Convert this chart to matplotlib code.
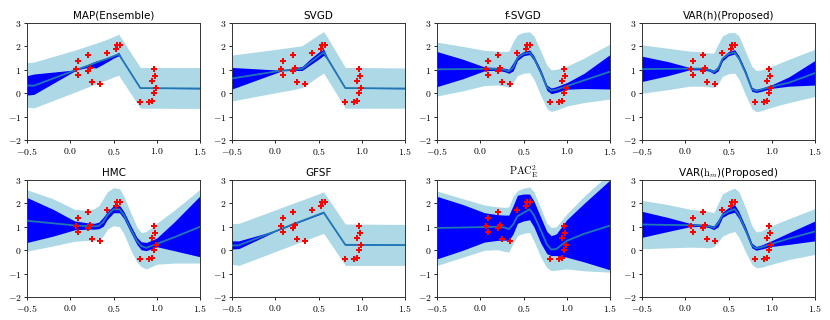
import matplotlib
matplotlib.use("Agg")
import matplotlib.pyplot as plt
from matplotlib.ticker import FuncFormatter

plt.rcParams["mathtext.fontset"] = "cm"
plt.rcParams["font.family"] = ["DejaVu Sans"]

# training data (red crosses)
DATA_X = [0.069, 0.088, 0.088, 0.208, 0.208, 0.23, 0.254, 0.346, 0.43, 0.53,
          0.538, 0.573, 0.808, 0.908, 0.942, 0.95, 0.965, 0.97, 0.985, 0.996]
DATA_Y = [1.04, 1.36, 0.76, 1.63, 0.97, 1.07, 0.49, 0.40, 1.73, 1.87,
          2.07, 2.07, -0.39, -0.39, -0.34, 0.51, 1.04, 0.0, 0.73, 0.23]

# --- MAP (Ensemble) ---
MAP_X = [-0.5, -0.42, 0.07, 0.2, 0.3, 0.4, 0.5, 0.56, 0.6, 0.81, 1.5]
MAP_MEAN = [0.33, 0.32, 1.0, 1.17, 1.31, 1.44, 1.58, 1.67, 1.44, 0.22, 0.2]
MAP_IN_HI = [0.75, 0.82, 1.0, 1.22, 1.38, 1.45, 1.6, 1.75, 1.47, 0.23, 0.21]
MAP_IN_LO = [-0.08, -0.05, 0.99, 1.1, 1.08, 1.28, 1.5, 1.6, 1.42, 0.21, 0.19]
MAP_OUT_HI = [1.3, 1.33, 1.86, 2.02, 2.14, 2.27, 2.42, 2.52, 2.3, 1.1, 1.1]
MAP_OUT_LO = [-0.6, -0.63, 0.07, 0.26, 0.4, 0.54, 0.69, 0.77, 0.54, -0.64, -0.65]

# --- SVGD ---
SVGD_X = [-0.5, 0.08, 0.2, 0.31, 0.4, 0.5, 0.56, 0.6, 0.81, 1.5]
SVGD_MEAN = [0.63, 0.97, 1.0, 1.04, 1.3, 1.58, 1.75, 1.5, 0.22, 0.2]
SVGD_IN_HI = [1.1, 0.98, 1.08, 1.14, 1.45, 1.75, 1.88, 1.55, 0.23, 0.21]
SVGD_IN_LO = [0.18, 0.96, 0.97, 0.97, 1.2, 1.45, 1.62, 1.45, 0.21, 0.19]
SVGD_OUT_HI = [1.63, 1.91, 1.97, 2.03, 2.25, 2.5, 2.63, 2.4, 1.1, 1.08]
SVGD_OUT_LO = [-0.33, 0.07, 0.15, 0.24, 0.46, 0.72, 0.86, 0.62, -0.64, -0.64]

# --- GFSF ---
GFSF_X = [-0.5, -0.42, 0.0, 0.2, 0.3, 0.56, 0.81, 1.5]
GFSF_MEAN = [0.2, 0.21, 0.81, 1.1, 1.24, 1.61, 0.23, 0.22]
GFSF_IN_HI = [0.4, 0.4, 0.84, 1.16, 1.28, 1.63, 0.24, 0.23]
GFSF_IN_LO = [0.05, 0.07, 0.8, 1.09, 1.23, 1.59, 0.22, 0.21]
GFSF_OUT_HI = [1.13, 1.15, 1.72, 2.0, 2.13, 2.49, 1.12, 1.1]
GFSF_OUT_LO = [-0.6, -0.65, -0.06, 0.22, 0.36, 0.72, -0.65, -0.65]

# knots shared by the smooth panels
SMOOTH_X = [-0.5, -0.2, 0.05, 0.2, 0.28, 0.33, 0.38, 0.43, 0.5, 0.57, 0.62,
            0.7, 0.77, 0.82, 0.88, 1.0, 1.2, 1.5]

# --- f-SVGD ---
FSVGD_MEAN = [1.02, 1.03, 1.04, 1.04, 1.0, 0.93, 1.1, 1.5, 1.68, 1.74, 1.5,
              0.9, 0.25, 0.11, 0.15, 0.3, 0.55, 0.92]
FSVGD_IN_HI = [1.78, 1.45, 1.12, 1.1, 1.07, 1.02, 1.3, 1.62, 1.78, 1.85, 1.6,
               1.0, 0.35, 0.22, 0.28, 0.45, 0.85, 1.65]
FSVGD_IN_LO = [0.28, 0.62, 0.96, 0.98, 0.92, 0.85, 0.95, 1.4, 1.6, 1.65, 1.4,
               0.78, 0.12, -0.02, 0.03, 0.17, 0.2, 0.18]
FSVGD_OUT_HI = [2.18, 2.0, 1.83, 1.8, 1.78, 1.8, 2.2, 2.5, 2.6, 2.62, 2.45,
                1.8, 1.2, 1.0, 1.02, 1.15, 1.5, 2.1]
FSVGD_OUT_LO = [-0.12, 0.1, 0.33, 0.35, 0.3, 0.25, 0.45, 0.75, 0.85, 0.88, 0.6,
                -0.1, -0.65, -0.78, -0.72, -0.55, -0.4, -0.25]

# --- VAR(h) ---
VARH_MEAN = [1.03, 1.04, 1.05, 1.05, 1.0, 0.9, 1.05, 1.47, 1.68, 1.74, 1.5,
             0.85, 0.17, 0.1, 0.15, 0.28, 0.45, 0.86]
VARH_IN_HI = [1.58, 1.35, 1.1, 1.09, 1.05, 0.98, 1.15, 1.55, 1.78, 1.86, 1.6,
              0.95, 0.25, 0.17, 0.22, 0.36, 0.7, 1.4]
VARH_IN_LO = [0.5, 0.75, 1.0, 1.0, 0.94, 0.83, 0.95, 1.38, 1.6, 1.68, 1.42,
              0.78, 0.08, 0.03, 0.08, 0.21, 0.3, 0.35]
VARH_OUT_HI = [2.07, 1.92, 1.8, 1.77, 1.72, 1.72, 2.1, 2.45, 2.58, 2.6, 2.45,
               1.75, 1.15, 0.97, 1.0, 1.15, 1.45, 1.88]
VARH_OUT_LO = [0.0, 0.15, 0.3, 0.3, 0.27, 0.25, 0.4, 0.72, 0.83, 0.86, 0.6,
               -0.1, -0.65, -0.79, -0.75, -0.6, -0.4, -0.14]

# --- HMC ---
HMC_MEAN = [1.26, 1.15, 1.06, 1.03, 1.02, 1.04, 1.2, 1.5, 1.75, 1.75, 1.5,
            0.9, 0.4, 0.18, 0.1, 0.27, 0.55, 1.0]
HMC_IN_HI = [2.25, 1.75, 1.25, 1.17, 1.15, 1.2, 1.4, 1.65, 1.9, 1.92, 1.65,
             1.05, 0.55, 0.36, 0.33, 0.52, 1.2, 2.32]
HMC_IN_LO = [0.33, 0.6, 0.87, 0.9, 0.9, 0.92, 1.02, 1.32, 1.6, 1.6, 1.35,
             0.75, 0.25, 0.02, -0.02, 0.15, -0.02, -0.28]
HMC_OUT_HI = [2.58, 2.2, 1.75, 1.7, 1.78, 1.9, 2.2, 2.5, 2.67, 2.63, 2.3,
              1.6, 1.0, 0.75, 0.8, 1.15, 1.7, 2.6]
HMC_OUT_LO = [-0.04, 0.18, 0.38, 0.42, 0.4, 0.45, 0.6, 0.9, 1.05, 1.0, 0.7,
              0.0, -0.5, -0.7, -0.8, -0.6, -0.55, -0.55]

# --- PAC^2_E ---
PAC_MEAN = [0.95, 0.97, 0.99, 1.0, 0.97, 0.9, 1.1, 1.45, 1.6, 1.75, 1.5,
            0.85, 0.25, 0.03, 0.05, 0.4, 0.7, 1.05]
PAC_IN_HI = [2.3, 1.95, 1.6, 1.52, 1.5, 1.5, 1.9, 2.35, 2.4, 2.4, 2.1,
             1.4, 0.8, 0.62, 0.7, 1.3, 2.0, 3.0]
PAC_IN_LO = [-0.37, 0.0, 0.35, 0.42, 0.43, 0.42, 0.7, 1.15, 1.25, 1.3, 1.0,
             0.3, -0.15, -0.23, -0.23, -0.3, -0.5, -0.84]
PAC_OUT_HI = [2.53, 2.2, 1.93, 1.85, 1.83, 1.85, 2.3, 2.55, 2.65, 2.7, 2.5,
              1.8, 1.15, 0.97, 1.0, 1.55, 2.3, 3.3]
PAC_OUT_LO = [-0.65, -0.3, 0.0, 0.02, -0.05, -0.08, 0.3, 0.62, 0.72, 0.76, 0.4,
              -0.3, -0.75, -0.87, -0.85, -0.8, -0.88, -0.94]

# --- VAR(h_m) ---
VARHM_MEAN = [1.1, 1.08, 1.07, 1.06, 1.02, 0.96, 1.15, 1.5, 1.65, 1.76, 1.5,
              0.85, 0.2, 0.08, 0.12, 0.27, 0.5, 0.8]
VARHM_IN_HI = [1.66, 1.4, 1.15, 1.1, 1.08, 1.04, 1.3, 1.62, 1.82, 1.95, 1.65,
               0.98, 0.3, 0.16, 0.22, 0.41, 0.75, 1.25]
VARHM_IN_LO = [0.55, 0.8, 1.0, 1.02, 0.96, 0.88, 1.0, 1.4, 1.55, 1.62, 1.35,
               0.72, 0.1, 0.0, 0.05, 0.16, 0.25, 0.4]
VARHM_OUT_HI = [2.13, 1.95, 1.75, 1.7, 1.65, 1.6, 2.0, 2.4, 2.55, 2.65, 2.5,
                1.8, 1.05, 0.78, 0.82, 1.05, 1.35, 1.78]
VARHM_OUT_LO = [0.06, 0.1, 0.13, 0.12, 0.1, 0.15, 0.35, 0.6, 0.72, 0.8, 0.55,
                -0.1, -0.6, -0.75, -0.73, -0.6, -0.4, -0.18]

TITLES = ["MAP(Ensemble)", "SVGD", "f-SVGD", "VAR(h)(Proposed)",
          "HMC", "GFSF", r"$\mathrm{PAC}^2_\mathrm{E}$", r"VAR($\mathrm{h}_m$)(Proposed)"]

PANELS = [
    (MAP_X, MAP_MEAN, MAP_IN_HI, MAP_IN_LO, MAP_OUT_HI, MAP_OUT_LO),
    (SVGD_X, SVGD_MEAN, SVGD_IN_HI, SVGD_IN_LO, SVGD_OUT_HI, SVGD_OUT_LO),
    (SMOOTH_X, FSVGD_MEAN, FSVGD_IN_HI, FSVGD_IN_LO, FSVGD_OUT_HI, FSVGD_OUT_LO),
    (SMOOTH_X, VARH_MEAN, VARH_IN_HI, VARH_IN_LO, VARH_OUT_HI, VARH_OUT_LO),
    (SMOOTH_X, HMC_MEAN, HMC_IN_HI, HMC_IN_LO, HMC_OUT_HI, HMC_OUT_LO),
    (GFSF_X, GFSF_MEAN, GFSF_IN_HI, GFSF_IN_LO, GFSF_OUT_HI, GFSF_OUT_LO),
    (SMOOTH_X, PAC_MEAN, PAC_IN_HI, PAC_IN_LO, PAC_OUT_HI, PAC_OUT_LO),
    (SMOOTH_X, VARHM_MEAN, VARHM_IN_HI, VARHM_IN_LO, VARHM_OUT_HI, VARHM_OUT_LO),
]

fig = plt.figure(figsize=(8.3, 3.2), dpi=100)

W, H = 173 / 830, 117 / 320
lefts = [27 / 830, 232 / 830, 437 / 830, 642 / 830]
bottoms = [1 - 140 / 320, 1 - 297 / 320]

xfmt = FuncFormatter(lambda v, p: f"${v:.1f}$")
yfmt = FuncFormatter(lambda v, p: f"${v:.0f}$")

for i, (x, mean, ihi, ilo, ohi, olo) in enumerate(PANELS):
    ax = fig.add_axes([lefts[i % 4], bottoms[i // 4], W, H])
    ax.fill_between(x, olo, ohi, color="lightblue", lw=0, zorder=1)
    ax.fill_between(x, ilo, ihi, color="blue", lw=0, zorder=2)
    ax.plot(x, mean, color="#1f77b4", lw=1.3, zorder=3)
    ax.plot(DATA_X, DATA_Y, "P", color="red", ms=4.2, mew=0, zorder=4)
    ax.set_xlim(-0.5, 1.5)
    ax.set_ylim(-2, 3)
    ax.set_xticks([-0.5, 0.0, 0.5, 1.0, 1.5])
    ax.set_yticks([-2, -1, 0, 1, 2, 3])
    ax.xaxis.set_major_formatter(xfmt)
    ax.yaxis.set_major_formatter(yfmt)
    ax.tick_params(labelsize=7, length=2.5, width=0.6, pad=1.5)
    for s in ax.spines.values():
        s.set_linewidth(0.7)
        s.set_color("#333333")
    ax.set_title(TITLES[i], fontsize=7.5, pad=3)

fig.savefig("out.png", dpi=100)
